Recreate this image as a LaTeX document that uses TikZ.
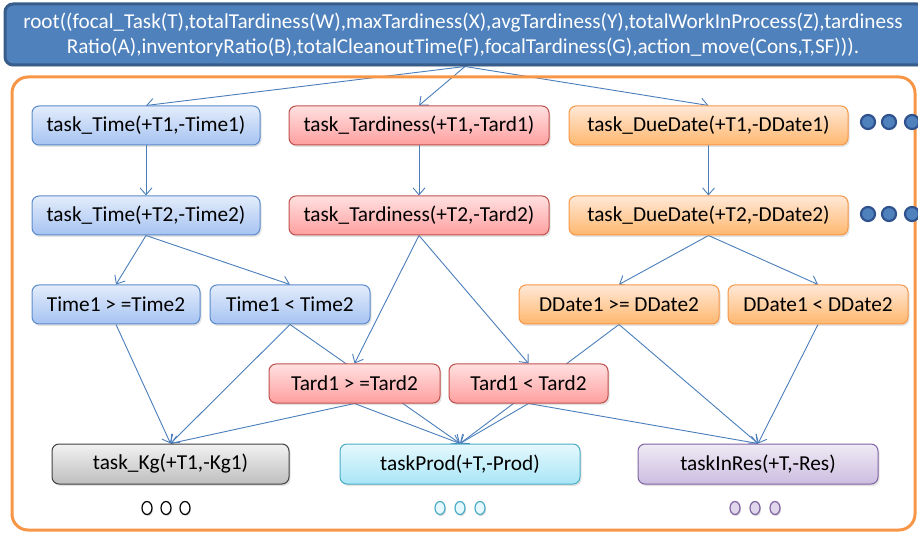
\documentclass[tikz,border=0pt]{standalone}
\usepackage{fontspec}
\setmainfont{Carlito}
\newfontfamily\rootfont{Carlito}
\usetikzlibrary{arrows.meta,shadows,backgrounds,shapes.geometric}

\definecolor{linkc}{HTML}{4A7EBB}
\definecolor{rootfill}{HTML}{4F81BD}
\definecolor{rootbd}{HTML}{385D8A}
\definecolor{framec}{HTML}{F79646}
\definecolor{bluetop}{HTML}{E3ECFB}
\definecolor{bluebot}{HTML}{A6C3F2}
\definecolor{bluebd}{HTML}{5B8BCB}
\definecolor{redtop}{HTML}{FFE0E0}
\definecolor{redbot}{HTML}{FF9F9F}
\definecolor{redbd}{HTML}{C0504D}
\definecolor{orgtop}{HTML}{FFE8D6}
\definecolor{orgbot}{HTML}{FFB76E}
\definecolor{orgbd}{HTML}{F79646}
\definecolor{graytop}{HTML}{F2F2F2}
\definecolor{graybot}{HTML}{BEBEBE}
\definecolor{graybd}{HTML}{404040}
\definecolor{cyantop}{HTML}{E6F8FD}
\definecolor{cyanbot}{HTML}{A8E6F7}
\definecolor{cyanbd}{HTML}{4BACC6}
\definecolor{purptop}{HTML}{EFEAF5}
\definecolor{purpbot}{HTML}{CCBDE0}
\definecolor{purpbd}{HTML}{8064A2}
\definecolor{dotbd}{HTML}{2F528F}

\tikzset{
  box/.style={rectangle, rounded corners=7pt, minimum height=39pt, inner sep=0pt,
    line width=1pt, font=\fontsize{21.3}{25}\selectfont,
    drop shadow={shadow xshift=1.5pt, shadow yshift=-2pt, opacity=0.22}},
  bluebox/.style={box, draw=bluebd, top color=bluetop, bottom color=bluebot},
  redbox/.style={box, draw=redbd, top color=redtop, bottom color=redbot},
  orgbox/.style={box, draw=orgbd, top color=orgtop, bottom color=orgbot},
  graybox/.style={box, draw=graybd, top color=graytop, bottom color=graybot, minimum height=40pt},
  cyanbox/.style={box, draw=cyanbd, top color=cyantop, bottom color=cyanbot, minimum height=40pt},
  purpbox/.style={box, draw=purpbd, top color=purptop, bottom color=purpbot, minimum height=40pt},
  bigdot/.style={circle, minimum size=14pt, inner sep=0pt, fill=rootfill, draw=dotbd, line width=2.2pt},
  smalldot/.style={ellipse, minimum width=10pt, minimum height=13pt, inner sep=0pt, line width=1.2pt,
    drop shadow={shadow xshift=1pt, shadow yshift=-1.5pt, opacity=0.3}},
  link/.style={draw=linkc, line width=0.9pt, -{Straight Barb[length=7pt,width=12pt]}},
}

\begin{document}
\begin{tikzpicture}[x=1pt,y=-1pt]
\useasboundingbox (0,0) rectangle (918,534);

% outer frame of the rule tree
\draw[framec, line width=3pt, rounded corners=16pt] (12,77) rectangle (915,530);

% root clause
\node[rectangle, rounded corners=8pt, draw=rootbd, line width=3pt, fill=rootfill,
      minimum width=920pt, minimum height=61pt, inner sep=0pt,
      drop shadow={shadow xshift=1pt, shadow yshift=-2pt, opacity=0.2}] (root) at (465,34.5) {};
\node[text=white, align=center, font=\rootfont\fontsize{21.2}{25}\selectfont] (roottxt) at (463,35)
  {root((focal\_Task(T),totalTardiness(W),maxTardiness(X),avgTardiness(Y),totalWorkInProcess(Z),tardiness\\
   Ratio(A),inventoryRatio(B),totalCleanoutTime(F),focalTardiness(G),action\_move(Cons,T,SF))).};

% first literals
\node[bluebox, minimum width=228pt] (tTime1) at (146,125.5) {task\_Time(+T1,-Time1)};
\node[redbox,  minimum width=260pt] (tTard1) at (419,125.5) {task\_Tardiness(+T1,-Tard1)};
\node[orgbox,  minimum width=279pt] (tDue1)  at (708.5,125.5) {task\_DueDate(+T1,-DDate1)};

% second literals
\node[bluebox, minimum width=228pt] (tTime2) at (146,215.5) {task\_Time(+T2,-Time2)};
\node[redbox,  minimum width=260pt] (tTard2) at (419,215.5) {task\_Tardiness(+T2,-Tard2)};
\node[orgbox,  minimum width=279pt] (tDue2)  at (708.5,215.5) {task\_DueDate(+T2,-DDate2)};

% comparisons
\node[bluebox, minimum width=168pt] (timeGE) at (116,304.5) {Time1 > =Time2};
\node[bluebox, minimum width=160pt] (timeLT) at (290,304.5) {Time1 < Time2};
\node[orgbox,  minimum width=200pt] (dueGE)  at (619,304.5) {DDate1 >= DDate2};
\node[orgbox,  minimum width=180pt] (dueLT)  at (818,304.5) {DDate1 < DDate2};
\node[redbox,  minimum width=171pt] (tardGE) at (354.5,383.5) {Tard1 > =Tard2};
\node[redbox,  minimum width=159pt] (tardLT) at (528.5,383.5) {Tard1 < Tard2};

% target predicates
\node[graybox, minimum width=237pt] (kg)   at (170.5,464) {task\_Kg(+T1,-Kg1)};
\node[cyanbox, minimum width=240pt] (prod) at (460,464)   {taskProd(+T,-Prod)};
\node[purpbox, minimum width=240pt] (res)  at (758,464)   {taskInRes(+T,-Res)};

% continuation marks
\foreach \r/\y in {1/122, 2/214}{
  \node[bigdot] (more\r a) at (868,\y) {};
  \node[bigdot] (more\r b) at (889,\y) {};
  \node[bigdot] (more\r c) at (912,\y) {};
}
\foreach \i/\x in {1/147, 2/166, 3/185}
  \node[smalldot, draw=black, fill=white] (kgdot\i) at (\x,508) {};
\foreach \i/\x in {1/440, 2/460, 3/480}
  \node[smalldot, draw=cyanbd, fill=cyantop] (proddot\i) at (\x,508) {};
\foreach \i/\x in {1/735, 2/755, 3/775}
  \node[smalldot, draw=purpbd, fill=purpbot!60] (resdot\i) at (\x,508) {};

% connectors, drawn underneath the boxes
\begin{pgfonlayer}{background}
  \draw[link] (root.south) -- (tTime1.north);
  \draw[link] (root.south) -- (tTard1.north);
  \draw[link] (root.south) -- (tDue1.north);
  \draw[link] (tTime1) -- (tTime2);
  \draw[link] (tTard1) -- (tTard2);
  \draw[link] (tDue1) -- (tDue2);
  \draw[link] (tTime2.south) -- (timeGE.north);
  \draw[link] (tTime2.south) -- (timeLT.north);
  \draw[link] (tTard2.south) -- (tardGE.north);
  \draw[link] (tTard2.south) -- (tardLT.north);
  \draw[link] (tDue2.south) -- (dueGE.north);
  \draw[link] (tDue2.south) -- (dueLT.north);
  \draw[link] (timeGE.south) -- (kg.north);
  \draw[link] (timeLT.south) -- (kg.north);
  \draw[link] (timeLT.south) -- (prod.north);
  \draw[link] (tardGE.south) -- (kg.north);
  \draw[link] (tardGE.south) -- (prod.north);
  \draw[link] (tardLT.south) -- (prod.north);
  \draw[link] (tardLT.south) -- (res.north);
  \draw[link] (dueGE.south) -- (prod.north);
  \draw[link] (dueGE.south) -- (res.north);
  \draw[link] (dueLT.south) -- (res.north);
\end{pgfonlayer}
\end{tikzpicture}
\end{document}
